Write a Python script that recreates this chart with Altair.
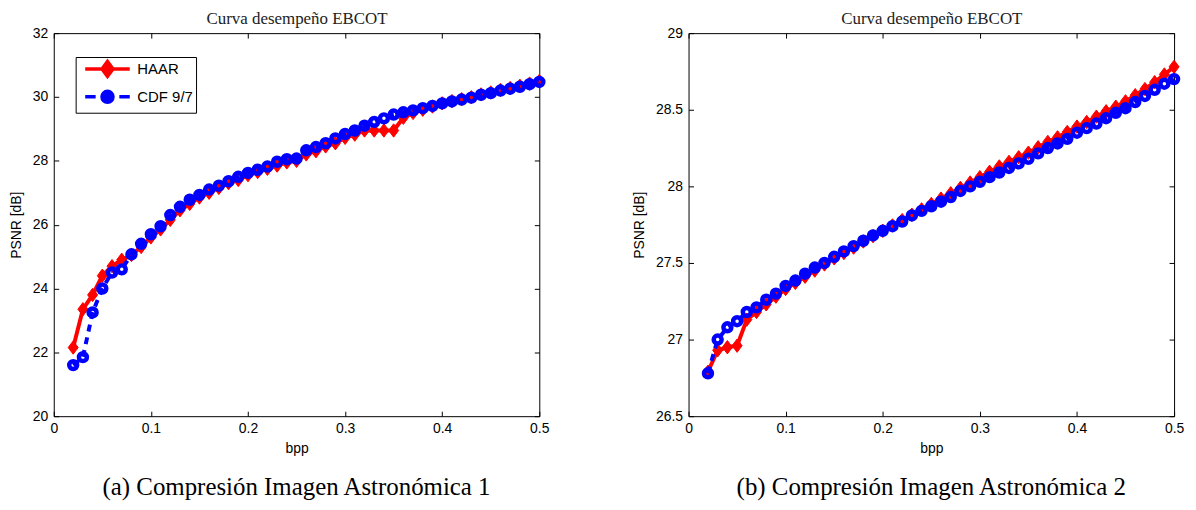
import altair as alt
import pandas as pd

# ---------------- data ----------------
bpp = [0.02, 0.03, 0.04, 0.05, 0.06, 0.07, 0.08, 0.09, 0.10,
       0.11, 0.12, 0.13, 0.14, 0.15, 0.16, 0.17, 0.18, 0.19, 0.20,
       0.21, 0.22, 0.23, 0.24, 0.25, 0.26, 0.27, 0.28, 0.29, 0.30,
       0.31, 0.32, 0.33, 0.34, 0.35, 0.36, 0.37, 0.38, 0.39, 0.40,
       0.41, 0.42, 0.43, 0.44, 0.45, 0.46, 0.47, 0.48, 0.49, 0.50]

haar_1 = [22.15, 23.35, 23.8, 24.4, 24.7, 24.9, 25.05, 25.3, 25.6,
          25.85, 26.15, 26.45, 26.65, 26.85, 27.0, 27.15, 27.3, 27.4, 27.55,
          27.65, 27.75, 27.85, 27.95, 28.0, 28.2, 28.3, 28.45, 28.55, 28.72,
          28.82, 28.95, 28.95, 28.95, 28.95, 29.35, 29.5, 29.6, 29.7, 29.8,
          29.87, 29.93, 29.99, 30.08, 30.14, 30.22, 30.28, 30.35, 30.42, 30.5]

cdf_1 = [21.6, 21.85, 23.25, 24.0, 24.5, 24.6, 25.07, 25.4, 25.7,
         25.95, 26.3, 26.56, 26.78, 26.93, 27.1, 27.22, 27.36, 27.5, 27.62,
         27.72, 27.82, 27.97, 28.05, 28.07, 28.33, 28.43, 28.55, 28.7, 28.84,
         28.95, 29.1, 29.22, 29.33, 29.45, 29.52, 29.58, 29.65, 29.72, 29.8,
         29.86, 29.92, 29.98, 30.07, 30.12, 30.2, 30.26, 30.32, 30.4, 30.47]

haar_2 = [26.79, 26.93, 26.95, 26.96, 27.13, 27.18, 27.23, 27.28, 27.33,
          27.37, 27.41, 27.45, 27.49, 27.53, 27.565, 27.6, 27.64, 27.675, 27.71,
          27.745, 27.78, 27.815, 27.85, 27.885, 27.92, 27.955, 27.99, 28.025, 28.06,
          28.095, 28.13, 28.16, 28.19, 28.22, 28.255, 28.29, 28.32, 28.355, 28.39,
          28.42, 28.455, 28.49, 28.52, 28.555, 28.595, 28.635, 28.68, 28.73, 28.78]

cdf_2 = [26.78, 27.0, 27.08, 27.12, 27.18, 27.21, 27.26, 27.3, 27.35,
         27.385, 27.43, 27.47, 27.5, 27.54, 27.575, 27.61, 27.645, 27.68, 27.71,
         27.74, 27.77, 27.81, 27.84, 27.87, 27.9, 27.93, 27.97, 28.0, 28.03,
         28.06, 28.09, 28.12, 28.15, 28.18, 28.215, 28.25, 28.28, 28.31, 28.35,
         28.38, 28.41, 28.445, 28.48, 28.51, 28.55, 28.59, 28.63, 28.67, 28.70]

series = ["HAAR", "CDF 9/7"]
x_ticks = [0, 0.1, 0.2, 0.3, 0.4, 0.5]
y_ticks_1 = [20, 22, 24, 26, 28, 30, 32]
y_ticks_2 = [26.5, 27, 27.5, 28, 28.5, 29]
plot_title = "Curva desempeño EBCOT"
captions = ["(a) Compresión Imagen Astronómica 1",
            "(b) Compresión Imagen Astronómica 2"]
x_title = "bpp"
y_title = "PSNR [dB]"

# ---------------- style ----------------
RED = "#ff0000"
BLUE = "#0000ff"
SANS = "Liberation Sans"
SERIF = "Liberation Serif"
DIAMOND = "M0,-1L0.75,0L0,1L-0.75,0Z"
LEG_HAAR = "M-3.2,0H3.2M0,-1.07L0.79,0L0,1.07L-0.79,0Z"
LEG_CDF = ("M-3.2,0H-1.7M1.7,0H3.2"
           "M0.79,0A0.79,0.79 0 1,1 -0.79,0A0.79,0.79 0 1,1 0.79,0Z")


def panel(haar, cdf, y_dom, y_ticks, caption):
    df = pd.DataFrame({
        "bpp": bpp + bpp,
        "psnr": haar + cdf,
        "serie": [series[0]] * len(bpp) + [series[1]] * len(bpp),
    })
    xs = alt.Scale(domain=[0, 0.5], nice=False, zero=False)
    ys = alt.Scale(domain=y_dom, nice=False, zero=False)

    bottom_axis = alt.Axis(values=x_ticks, format="~g", title=x_title,
                           offset=-5, tickSize=5, domain=False, grid=False,
                           labelPadding=5, titlePadding=7, labelFlush=False,
                           labelOverlap=False)
    left_axis = alt.Axis(values=y_ticks, format="~g", title=y_title,
                         offset=-5, tickSize=5, domain=False, grid=False,
                         labelPadding=6, titlePadding=9, labelFlush=False,
                         labelOverlap=False)
    top_axis = alt.Axis(orient="top", values=x_ticks, labels=False,
                        offset=-5, tickSize=5, domain=False, grid=False,
                        title=plot_title, titleFont=SERIF, titleFontSize=17,
                        titleFontWeight="normal", titleColor="#222222",
                        titlePadding=5)
    right_axis = alt.Axis(orient="right", values=y_ticks, labels=False,
                          offset=-5, tickSize=5, domain=False, grid=False,
                          title=None)

    base = alt.Chart(df)
    h = base.transform_filter(alt.datum.serie == series[0])
    c = base.transform_filter(alt.datum.serie == series[1])

    enc_main = dict(x=alt.X("bpp:Q", scale=xs, axis=bottom_axis),
                    y=alt.Y("psnr:Q", scale=ys, axis=left_axis))
    enc = dict(x=alt.X("bpp:Q", scale=xs, axis=None),
               y=alt.Y("psnr:Q", scale=ys, axis=None))

    red_line = h.mark_line(color=RED, strokeWidth=4).encode(**enc_main)
    red_pts = h.mark_point(shape=DIAMOND, filled=True, fill=RED, stroke=RED,
                           strokeWidth=1, size=180, opacity=1).encode(**enc)
    blue_line = c.mark_line(color=BLUE, strokeWidth=4,
                            strokeDash=[7, 6]).encode(**enc)
    blue_pts = c.mark_point(shape="circle", filled=False, color=BLUE,
                            size=64, strokeWidth=4.5, opacity=1).encode(**enc)

    leg = alt.Legend(title=None, orient="none", legendX=22, legendY=24,
                     direction="vertical", symbolSize=196,
                     symbolStrokeWidth=3.5, padding=3, rowPadding=0,
                     symbolOffset=20, labelOffset=21, labelFont=SANS,
                     labelFontSize=15, labelColor="black",
                     labelExpr="datum.label + '\u00a0\u00a0'",
                     strokeColor="black", fillColor="white")
    legend_layer = base.transform_filter("datum.bpp < 0").mark_point(
        filled=True, opacity=1, strokeWidth=3.5
    ).encode(
        x=alt.X("bpp:Q", scale=xs, axis=top_axis),
        y=alt.Y("psnr:Q", scale=ys, axis=right_axis),
        fill=alt.Fill("serie:N", scale=alt.Scale(domain=series, range=[RED, BLUE]), legend=leg),
        stroke=alt.Stroke("serie:N", scale=alt.Scale(domain=series, range=[RED, BLUE]), legend=leg),
        shape=alt.Shape("serie:N", scale=alt.Scale(domain=series, range=[LEG_HAAR, LEG_CDF]), legend=leg),
    )

    return alt.layer(red_line, red_pts, blue_line, blue_pts, legend_layer).resolve_axis(
        x="independent", y="independent"
    ).properties(
        width=488, height=385,
        title=alt.TitleParams(text=caption, orient="bottom", anchor="middle",
                              frame="group", font=SERIF, fontSize=25,
                              fontWeight="normal", color="black", offset=19),
    )


p1 = panel(haar_1, cdf_1, [20, 32], y_ticks_1, captions[0])
p2 = panel(haar_2, cdf_2, [26.5, 29], y_ticks_2, captions[1])

chart = alt.hconcat(p1, p2, spacing=79).properties(
    padding={"left": 0, "right": 0, "top": 0, "bottom": 0},
    background="white",
).configure_view(
    stroke="black", strokeWidth=1
).configure_axis(
    labelFont=SANS, labelFontSize=14, labelColor="black",
    titleFont=SANS, titleFontSize=14, titleFontWeight="normal",
    titleColor="black", tickColor="black", tickWidth=1,
)

chart.save("out.html", embed_options={"renderer": "svg", "actions": False})
